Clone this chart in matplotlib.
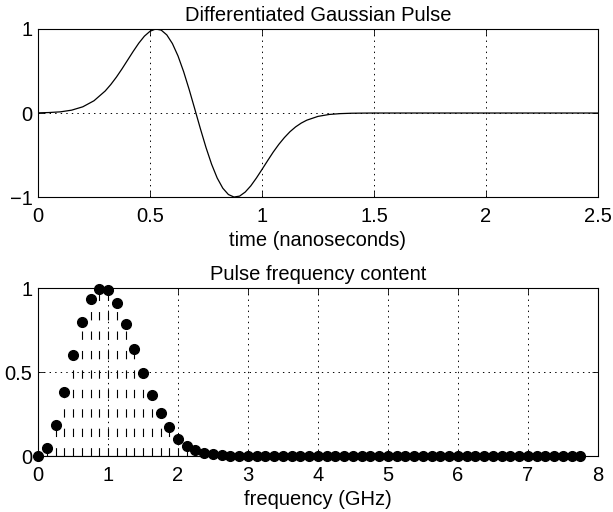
import numpy as np
import matplotlib
matplotlib.use('Agg')
import matplotlib.pyplot as plt

plt.rcParams['font.family'] = ['Liberation Sans', 'DejaVu Sans']
plt.rcParams['lines.scale_dashes'] = False

# pulse values (time in ns)
t_ns = [0.0, 0.05, 0.10, 0.15, 0.20, 0.25, 0.30, 0.325, 0.35, 0.375, 0.40, 0.425, 0.45, 0.475,
        0.50, 0.525, 0.55, 0.575, 0.60, 0.625, 0.65, 0.675, 0.70, 0.725, 0.75, 0.775, 0.80,
        0.825, 0.85, 0.875, 0.90, 0.925, 0.95, 0.975, 1.00, 1.025, 1.05, 1.075, 1.10, 1.125,
        1.15, 1.175, 1.20, 1.25, 1.30, 1.35, 1.40, 1.45, 1.50, 2.0, 2.5]
pulse = [0.002, 0.006, 0.014, 0.034, 0.074, 0.146, 0.262, 0.339, 0.427, 0.525, 0.629, 0.733,
         0.831, 0.914, 0.972, 0.999, 0.986, 0.929, 0.826, 0.679, 0.493, 0.278, 0.047, -0.187,
         -0.410, -0.609, -0.773, -0.894, -0.969, -0.999, -0.988, -0.940, -0.866, -0.773, -0.671,
         -0.567, -0.465, -0.373, -0.292, -0.222, -0.165, -0.120, -0.085, -0.040, -0.017, -0.007,
         -0.0025, -0.001, 0.0, 0.0, 0.0]

# frequency content (bins of 0.125 GHz)
freq = np.arange(63) * 0.125
mag = [0.0, 0.05, 0.185, 0.384, 0.602, 0.795, 0.934, 0.996, 0.986, 0.911, 0.785, 0.640,
       0.493, 0.364, 0.254, 0.171, 0.105, 0.062, 0.036, 0.020, 0.012, 0.006, 0.003, 0.001]
mag = mag + [0.0] * (len(freq) - len(mag))

fs = 14.5

fig = plt.figure(figsize=(6.13, 5.12), dpi=100)
ax1 = fig.add_axes([0.062, 0.615, 0.9135, 0.3285])
ax2 = fig.add_axes([0.062, 0.109, 0.9135, 0.3285])

for ax in (ax1, ax2):
    ax.grid(True, color='black', linestyle=(0, (1, 3)), linewidth=0.7)
    ax.tick_params(direction='in', top=True, right=True, labelsize=fs, length=4, width=0.6)
    ax.tick_params(axis='x', pad=7)
    ax.tick_params(axis='y', pad=4)
    for s in ax.spines.values():
        s.set_linewidth(0.8)
    ax.set_axisbelow(True)

ax1.plot(t_ns, pulse, color='black', linewidth=0.9)
ax1.set_xlim(0, 2.5)
ax1.set_ylim(-1, 1)
ax1.set_xticks([0, 0.5, 1, 1.5, 2, 2.5])
ax1.set_xticklabels(['0', '0.5', '1', '1.5', '2', '2.5'])
ax1.set_yticks([-1, 0, 1])
ax1.set_yticklabels(['\u22121', '0', '1'])
ax1.set_title('Differentiated Gaussian Pulse', fontsize=fs, pad=6)
ax1.set_xlabel('time (nanoseconds)', fontsize=fs, labelpad=3.5)

ml, sl, bl = ax2.stem(freq, mag, linefmt='k--', markerfmt='ko', basefmt='k-')
plt.setp(sl, linewidth=0.8, linestyle=(0, (6, 8)))
plt.setp(ml, markersize=7)
plt.setp(bl, linewidth=0.8)
ml.set_clip_on(False)
ax2.set_xlim(0, 8)
ax2.set_ylim(0, 1)
ax2.set_xticks(range(9))
ax2.set_yticks([0, 0.5, 1])
ax2.set_yticklabels(['0', '0.5', '1'])
ax2.set_title('Pulse frequency content', fontsize=fs, pad=6)
ax2.set_xlabel('frequency (GHz)', fontsize=fs, labelpad=3.5)

fig.savefig('out.png', dpi=100)
